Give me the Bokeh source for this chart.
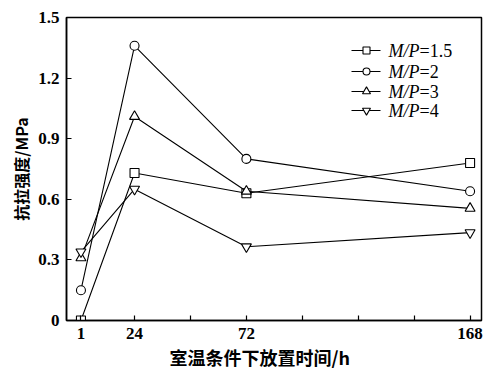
import math
from bokeh.plotting import figure
from bokeh.models import FixedTicker, Range1d, Title
from bokeh.core.properties import value
from bokeh.embed import file_html
from bokeh.resources import INLINE

# storage time at room temperature (h)
hours = [1, 24, 72, 168]
# tensile strength (MPa) for each M/P ratio
mp_15 = [0.00, 0.73, 0.63, 0.78]
mp_2 = [0.15, 1.36, 0.80, 0.64]
mp_3 = [0.31, 1.01, 0.64, 0.555]
mp_4 = [0.34, 0.65, 0.365, 0.435]

series_labels = ["=1.5", "=2", "=3", "=4"]
markers = ["square", "circle", "triangle", "inverted_triangle"]
marker_sizes = [9, 9, 10, 10]

x_ticks = [1, 24, 48, 72, 96, 120, 144, 168]
x_tick_labels = {1: "1", 24: "24", 48: "", 72: "72", 96: "", 120: "", 144: "", 168: "168"}
y_ticks = [0, 0.3, 0.6, 0.9, 1.2, 1.5]
y_tick_labels = {0: "0", 0.3: "0.3", 0.6: "0.6", 0.9: "0.9", 1.2: "1.2", 1.5: "1.5"}

X0, X1 = -5.2, 172.9
Y0, Y1 = 0.0, 1.5

W, H = 487, 370
LEFT, RIGHT, TOP, BOTTOM = 66, 6, 17, 50
frame_w = W - LEFT - RIGHT
frame_h = H - TOP - BOTTOM

p = figure(width=W, height=H, output_backend="svg", toolbar_location=None,
           x_range=Range1d(X0, X1), y_range=Range1d(Y0, Y1),
           min_border_left=LEFT, min_border_right=RIGHT,
           min_border_top=TOP, min_border_bottom=BOTTOM)
p.background_fill_color = "white"
p.border_fill_color = "white"
p.xgrid.visible = False
p.ygrid.visible = False
p.outline_line_color = "black"
p.outline_line_width = 1.5
p.outline_line_alpha = 1.0

tick_font = "'Liberation Serif'"
cjk_font = "'Noto Sans CJK SC'"
for ax in (p.xaxis[0], p.yaxis[0]):
    ax.axis_line_width = 1.5
    ax.axis_line_color = "black"
    ax.major_tick_in = 5
    ax.major_tick_out = 0
    ax.major_tick_line_width = 1.2
    ax.minor_tick_line_color = None
    ax.major_label_text_font = tick_font
    ax.major_label_text_font_style = "bold"
    ax.major_label_text_font_size = "17px"
    ax.major_label_text_color = "black"
    ax.major_label_standoff = 7

p.xaxis[0].ticker = FixedTicker(ticks=x_ticks)
p.xaxis[0].major_label_overrides = x_tick_labels
p.yaxis[0].ticker = FixedTicker(ticks=y_ticks)
p.yaxis[0].major_label_overrides = y_tick_labels


def px_x(px):
    """canvas x (from left) -> data x"""
    return X0 + (px - LEFT) * (X1 - X0) / frame_w


def px_y(py):
    """canvas y (from top) -> data y"""
    return Y0 + (TOP + frame_h - py) * (Y1 - Y0) / frame_h


all_series = [mp_15, mp_2, mp_3, mp_4]
for ys, mk, sz in zip(all_series, markers, marker_sizes):
    p.line(hours, ys, line_color="black", line_width=1.1)
    p.scatter(hours, ys, marker=mk, size=sz, line_color="black",
              line_width=1.1, fill_color="white")

# legend block
legend_rows_px = [50, 71, 91, 110]
for row, mk, sz, lab in zip(legend_rows_px, markers, marker_sizes, series_labels):
    yy = px_y(row)
    p.line([px_x(351), px_x(380)], [yy, yy], line_color="black", line_width=1.1)
    p.scatter([px_x(366)], [yy], marker=mk, size=sz - 2, line_color="black",
              line_width=1.1, fill_color="white")
    p.text([px_x(388)], [yy], text=["M/P"], text_font=value(tick_font),
           text_font_style="italic", text_font_size="18px",
           text_baseline="middle", text_align="left", text_color="black")
    p.text([px_x(419)], [yy], text=[lab], text_font=value(tick_font),
           text_font_size="18px", text_baseline="middle", text_align="left",
           text_color="black")

# axis titles
x_title = Title(text="室温条件下放置时间/h", align="left", offset=103,
                text_font=cjk_font, text_font_style="bold", text_font_size="18px",
                text_color="black", standoff=0)
p.add_layout(x_title, "below")
y_title = Title(text="抗拉强度/MPa", align="center", offset=-14,
                text_font=cjk_font, text_font_style="bold", text_font_size="16px",
                text_color="black", standoff=6)
p.add_layout(y_title, "left")

open("out.html", "w").write(file_html(p, INLINE))
